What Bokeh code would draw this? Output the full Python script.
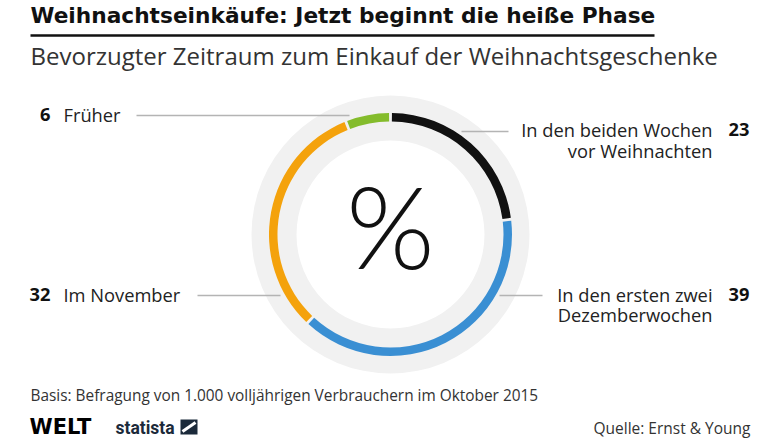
import numpy as np
from bokeh.plotting import figure
from bokeh.models import Range1d, ColumnDataSource
from bokeh.core.properties import value
from bokeh.embed import file_html
from bokeh.resources import INLINE

# ---------------- data ----------------
categories = ["In den beiden Wochen vor Weihnachten", "In den ersten zwei Dezemberwochen", "Im November", "Früher"]
label_line1 = ["In den beiden Wochen", "In den ersten zwei", "Im November", "Früher"]
label_line2 = ["vor Weihnachten", "Dezemberwochen", "", ""]
values = [23, 39, 32, 6]
colors = ["#111111", "#3a8fd3", "#f4a20c", "#84bc2c"]

title = "Weihnachtseinkäufe: Jetzt beginnt die heiße Phase"
subtitle = "Bevorzugter Zeitraum zum Einkauf der Weihnachtsgeschenke"
note = "Basis: Befragung von 1.000 volljährigen Verbrauchern im Oktober 2015"
source_txt = "Quelle: Ernst & Young"

# ---------------- layout ----------------
W, H = 780, 438
def Y(v):
    return H - v

def TY(baseline, size):
    # empirical correction so that the text's baseline lands at `baseline` (px from top)
    return Y(baseline - 0.38 * size)

CX, CY = 390, Y(234)
FONT = value("Open Sans")

p = figure(width=W, height=H, x_range=Range1d(0, W), y_range=Range1d(0, H),
           min_border=0, toolbar_location=None, output_backend="svg",
           x_axis_location=None, y_axis_location=None)
p.grid.visible = False
p.outline_line_color = None
p.background_fill_color = "white"

# background grey ring
p.annulus(x=[CX], y=[CY], inner_radius=94, outer_radius=139,
          fill_color="#f1f1f1", line_color=None)

# donut segments (clockwise from 12 o'clock)
vals = np.array(values, dtype=float)
frac = vals / vals.sum()
f1 = np.cumsum(frac)
f0 = f1 - frac
gap = 0.012
start = np.pi / 2 - 2 * np.pi * f1 + gap
end = np.pi / 2 - 2 * np.pi * f0 - gap
seg = ColumnDataSource(dict(start=start, end=end, color=colors, cat=categories))
p.annular_wedge(x=CX, y=CY, inner_radius=113, outer_radius=121.5,
                start_angle="start", end_angle="end", fill_color="color",
                line_color=None, source=seg)

# percent sign in centre
PS = 114
p.text(x=[CX], y=[TY(267, PS)], text=["%"], text_font=value("Lato Light"),
       text_font_size=f"{PS}px", text_align="center", text_baseline="alphabetic",
       text_color="#111111")

# leader lines
lx0 = [136, 461, 197, 499]
lx1 = [349, 508, 280, 542]
ly = [Y(115), Y(131), Y(295), Y(295)]
p.segment(x0=lx0, y0=ly, x1=lx1, y1=ly, line_color="#b4b4b4", line_width=1.5)

# labels
LS = 18.3
LBL = f"{LS}px"
# right side (index 0,1)
p.text(x=[712, 712], y=[TY(136, LS), TY(301, LS)], text=[label_line1[0], label_line1[1]],
       text_font=FONT, text_font_size=LBL, text_align="right",
       text_baseline="alphabetic", text_color="#222222")
p.text(x=[712, 712], y=[TY(157, LS), TY(321, LS)], text=[label_line2[0], label_line2[1]],
       text_font=FONT, text_font_size=LBL, text_align="right",
       text_baseline="alphabetic", text_color="#222222")
p.text(x=[728, 728], y=[TY(136, LS), TY(301, LS)], text=[str(values[0]), str(values[1])],
       text_font=FONT, text_font_size=LBL, text_font_style="bold", text_align="left",
       text_baseline="alphabetic", text_color="#111111")
# left side (index 2,3)
p.text(x=[63, 63], y=[TY(301, LS), TY(121, LS)], text=[label_line1[2], label_line1[3]],
       text_font=FONT, text_font_size=LBL, text_align="left",
       text_baseline="alphabetic", text_color="#222222")
p.text(x=[50, 50], y=[TY(301, LS), TY(121, LS)], text=[str(values[2]), str(values[3])],
       text_font=FONT, text_font_size=LBL, text_font_style="bold", text_align="right",
       text_baseline="alphabetic", text_color="#111111")

# title & subtitle
TS = 21.7
p.text(x=[30], y=[TY(23, TS)], text=[title], text_font=value("DejaVu Sans"), text_font_size=f"{TS}px",
       text_font_style="bold", text_baseline="alphabetic", text_color="#111111")
p.segment(x0=[30], y0=[Y(35)], x1=[654], y1=[Y(35)], line_color="#111111", line_width=2.5)
SS = 24
p.text(x=[30], y=[TY(64, SS)], text=[subtitle], text_font=FONT, text_font_size=f"{SS}px",
       text_baseline="alphabetic", text_color="#333333")

# footer
NS = 15.4
p.text(x=[30], y=[TY(401, NS)], text=[note], text_font=FONT, text_font_size=f"{NS}px",
       text_baseline="alphabetic", text_color="#333333")
QS = 15.5
p.text(x=[750], y=[TY(433, QS)], text=[source_txt], text_font=FONT, text_font_size=f"{QS}px",
       text_align="right", text_baseline="alphabetic", text_color="#333333")
WS = 21
p.text(x=[29], y=[TY(434, WS)], text=["WELT"], text_font=value("DejaVu Sans"), text_font_size=f"{WS}px",
       text_font_style="bold", text_baseline="alphabetic", text_color="#000000")
SSZ = 17.5
p.text(x=[115], y=[TY(434, SSZ)], text=["statista"], text_font=value("Roboto"), text_font_size=f"{SSZ}px",
       text_font_style="bold", text_baseline="alphabetic", text_color="#1b2a3a")
p.quad(left=[180], right=[197], bottom=[Y(434)], top=[Y(419)], fill_color="#1b2a3a", line_color=None)
p.segment(x0=[182], y0=[Y(431)], x1=[195], y1=[Y(422)], line_color="white", line_width=3)

open("out.html", "w").write(file_html(p, INLINE))
